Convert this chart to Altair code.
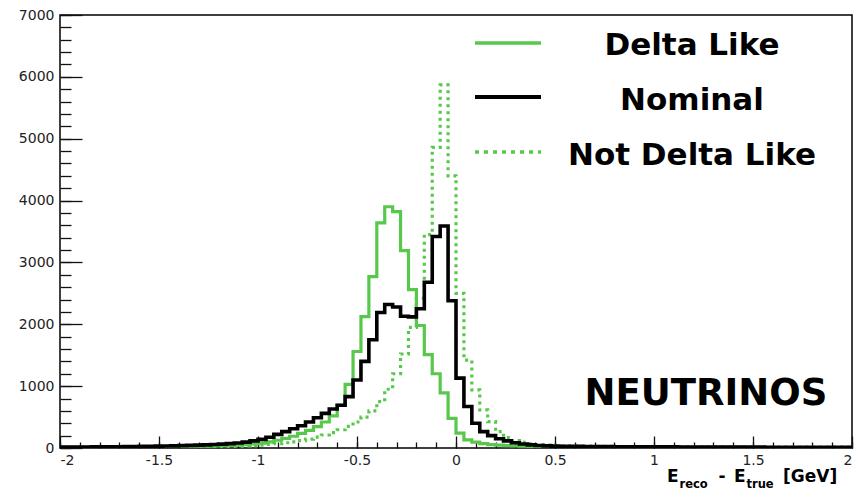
import altair as alt
import numpy as np
import pandas as pd

# ---------------- data ----------------
N_BINS = 100
X_MIN, X_MAX = -2.0, 2.0
edges = np.round(np.linspace(X_MIN, X_MAX, N_BINS + 1), 4)

series_names = ["Delta Like", "Nominal", "Not Delta Like"]

# bin contents, bins of width 0.04 from -2 to 2
delta_like = [
    10, 10, 11, 11, 12, 12, 13, 14, 15, 16,
    17, 18, 19, 20, 22, 24, 26, 28, 30, 33,
    37, 42, 48, 56, 66,
    80, 100, 125, 155, 190, 235, 285, 345, 420, 520,
    690, 1030, 1560, 2125, 2770, 3640, 3900, 3820, 3190, 2560,
    1980, 1510, 1200, 890, 480, 240, 130, 95, 70, 55,
    45, 38, 32, 28, 25, 22, 20,
    18, 17, 16, 15, 15, 14, 14, 13, 13, 12,
    12, 12, 11, 11, 11, 10, 10, 10, 10, 9,
    9, 9, 9, 9, 8, 8, 8, 8, 8, 8,
    7, 7, 7, 7, 7, 7, 7, 7,
]
nominal = [
    15, 15, 16, 17, 18, 19, 20, 21, 22, 24,
    26, 28, 30, 32, 35, 38, 42, 46, 50, 56,
    62, 70, 80, 95, 115,
    140, 175, 220, 265, 310, 360, 420, 490, 560, 630,
    690, 830, 1100, 1400, 1750, 2190, 2320, 2280, 2130, 2120,
    2250, 2680, 3420, 3590, 2380, 1130, 670, 400, 265, 200,
    150, 115, 85, 65, 50, 40, 34,
    30, 28, 27, 26, 25, 24, 23, 22, 21, 21,
    20, 20, 19, 19, 18, 18, 17, 17, 16, 16,
    16, 15, 15, 15, 14, 14, 14, 13, 13, 13,
    13, 12, 12, 12, 12, 11, 11, 11,
]
not_delta_like = [
    8, 8, 8, 9, 9, 9, 10, 10, 11, 11,
    12, 12, 13, 14, 15, 16, 17, 18, 20, 22,
    24, 27, 30, 34, 40,
    48, 58, 70, 85, 100, 120, 145, 175, 210, 250,
    295, 350, 420, 500, 600, 750, 950, 1200, 1520, 1950,
    2420, 3450, 4860, 5870, 4400, 2500, 1420, 940, 615, 425,
    265, 170, 120, 90, 70, 55, 45,
    40, 36, 33, 31, 29, 27, 26, 25, 24, 23,
    22, 21, 21, 20, 20, 19, 19, 18, 18, 17,
    17, 17, 16, 16, 16, 15, 15, 15, 15, 14,
    14, 14, 14, 13, 13, 13, 13, 13,
]

x_major = [-2, -1.5, -1, -0.5, 0, 0.5, 1, 1.5, 2]
x_minor = [round(-2 + 0.1 * k, 1) for k in range(41)]
y_major = [0, 1000, 2000, 3000, 4000, 5000, 6000, 7000]
y_minor = [200 * k for k in range(36)]

panel_label = "NEUTRINOS"
title_parts = ["E", "reco", "-", "E", "true", "[GeV]"]

# ---------------- layout / style ----------------
W, H = 792, 433
GREEN = "#58c84c"
FONT = "DejaVu Sans"

xs = alt.Scale(domain=[X_MIN, X_MAX], nice=False, zero=False)
ys = alt.Scale(domain=[0, 7000], nice=False)


def step_df(vals, name):
    return pd.DataFrame({"x": list(edges), "y": list(vals) + [vals[-1]], "series": name})


label_x_axis = alt.Axis(values=x_major, format="~g",
                        labelExpr="replace(datum.label, '\u2212', '-')",
                        ticks=False, domain=False, grid=False, title=None,
                        labelFont=FONT, labelFontSize=14, labelColor="#222",
                        labelPadding=5)
label_y_axis = alt.Axis(values=y_major, format="d", ticks=False, domain=False,
                        grid=False, title=None, labelFont=FONT, labelFontSize=14,
                        labelColor="#222", labelPadding=6)


def line_layer(vals, name, color, width, dash=None, with_axes=False):
    kw = dict(interpolate="step-after", color=color, strokeWidth=width, clip=True)
    if dash is not None:
        kw["strokeDash"] = dash
    return alt.Chart(step_df(vals, name)).mark_line(**kw).encode(
        x=alt.X("x:Q", scale=xs, axis=label_x_axis if with_axes else None),
        y=alt.Y("y:Q", scale=ys, axis=label_y_axis if with_axes else None),
    )


def xtick_layer(vals, size):
    return alt.Chart(pd.DataFrame({"t": vals})).mark_point(opacity=0).encode(
        x=alt.X("t:Q", scale=xs,
                axis=alt.Axis(orient="top", offset=-H, values=vals, tickSize=size,
                              tickWidth=1.3, tickColor="#111", labels=False,
                              domain=False, grid=False, title=None)))


def ytick_layer(vals, size):
    return alt.Chart(pd.DataFrame({"t": vals})).mark_point(opacity=0).encode(
        y=alt.Y("t:Q", scale=ys,
                axis=alt.Axis(orient="right", offset=-W, values=vals, tickSize=size,
                              tickWidth=1.3, tickColor="#111", labels=False,
                              domain=False, grid=False, title=None)))


layers = [
    line_layer(delta_like, series_names[0], GREEN, 3.2, with_axes=True),
    line_layer(not_delta_like, series_names[2], GREEN, 3.2, dash=[3, 4]),
    line_layer(nominal, series_names[1], "black", 3.6),
    xtick_layer(x_major, 12),
    xtick_layer(x_minor, 6),
    ytick_layer(y_major, 22),
    ytick_layer(y_minor, 11),
]

# legend (manual, ROOT style)
legend_style = [
    (series_names[0], GREEN, 3.5, None, 28, 40),
    (series_names[1], "black", 4.0, None, 82, 95),
    (series_names[2], GREEN, 3.5, [4, 5], 137, 150),
]
for name, color, width, dash, ly, ty in legend_style:
    d = pd.DataFrame({"label": [name]})
    rkw = dict(color=color, strokeWidth=width)
    if dash is not None:
        rkw["strokeDash"] = dash
    layers.append(alt.Chart(d).mark_rule(**rkw).encode(
        x=alt.value(415), x2=alt.value(481), y=alt.value(ly)))
    layers.append(alt.Chart(d).mark_text(
        font=FONT, fontSize=31, fontWeight="bold", align="center",
        baseline="alphabetic", color="black").encode(
        x=alt.value(632), y=alt.value(ty), text="label:N"))

# NEUTRINOS label
layers.append(alt.Chart(pd.DataFrame({"label": [panel_label]})).mark_text(
    font=FONT, fontSize=37, fontWeight="bold", align="center",
    baseline="alphabetic", color="black").encode(
    x=alt.value(646), y=alt.value(390), text="label:N"))

# axis title with subscripts
title_pos = [(607, 467, 17, "left"), (619.5, 473, 11.5, "left"),
             (662, 467, 17, "center"), (674, 467, 17, "left"),
             (686.5, 473, 11.5, "left"), (723, 467, 17, "left")]
for part, (tx, ty, fs, al) in zip(title_parts, title_pos):
    layers.append(alt.Chart(pd.DataFrame({"label": [part]})).mark_text(
        font=FONT, fontSize=fs, fontWeight="bold", align=al,
        baseline="alphabetic", color="black").encode(
        x=alt.value(tx), y=alt.value(ty), text="label:N"))

chart = alt.layer(*layers).resolve_axis(
    x="independent", y="independent"
).properties(
    width=W, height=H,
    autosize=alt.AutoSizeParams(type="none"),
    padding={"left": 60, "top": 15, "right": 4, "bottom": 46},
    background="white",
).configure_view(stroke="black", strokeWidth=1.5)

chart.save("out.html", embed_options={"renderer": "svg", "actions": False})
